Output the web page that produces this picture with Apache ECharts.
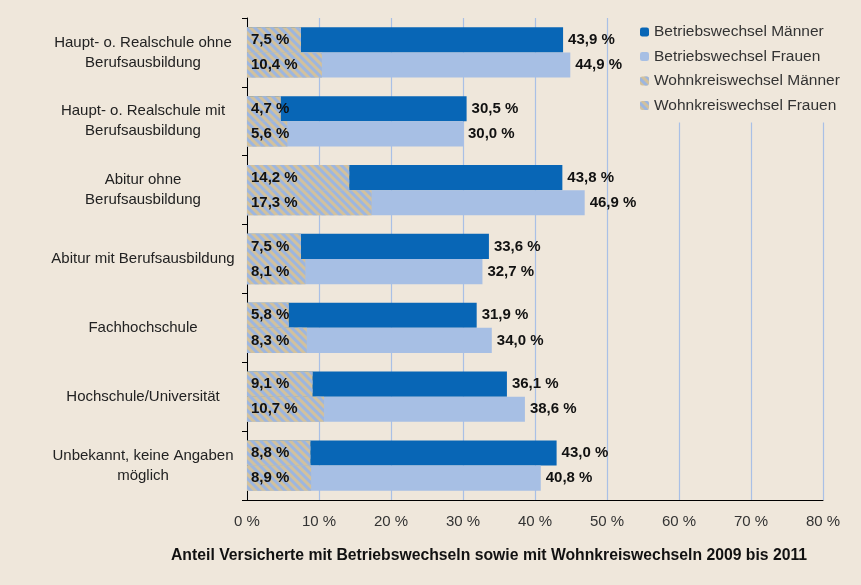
<!DOCTYPE html>
<html>
<head>
<meta charset="utf-8">
<script src="https://cdn.jsdelivr.net/npm/echarts@6/dist/echarts.min.js"></script>
<style>
  html, body { margin: 0; padding: 0; background: #efe7db; }
  #chart { width: 861px; height: 585px; }
</style>
</head>
<body>
<div id="chart"></div>
<script>
// Kategorien (Schulabschluss)
const categories = [
    'Haupt- o. Realschule ohne\nBerufsausbildung',
    'Haupt- o. Realschule mit\nBerufsausbildung',
    'Abitur ohne\nBerufsausbildung',
    'Abitur mit Berufsausbildung',
    'Fachhochschule',
    'Hochschule/Universität',
    'Unbekannt, keine Angaben\nmöglich'
];
// Werte in %
const betriebMaenner = [43.9, 30.5, 43.8, 33.6, 31.9, 36.1, 43.0];
const betriebFrauen = [44.9, 30.0, 46.9, 32.7, 34.0, 38.6, 40.8];
const wohnkreisMaenner = [7.5, 4.7, 14.2, 7.5, 5.8, 9.1, 8.8];
const wohnkreisFrauen = [10.4, 5.6, 17.3, 8.1, 8.3, 10.7, 8.9];

const FONT = '"Liberation Sans", Arial, sans-serif';
const fmt = v => v.toFixed(1).replace('.', ',') + ' %';

// schraffur für Wohnkreiswechsel
const hatch = {
    symbol: 'rect',
    color: '#9db6df',
    dashArrayX: [1, 0],
    dashArrayY: [3, 3],
    rotation: Math.PI / 4
};

const valueLabel = {
    show: true,
    position: 'right',
    distance: 5,
    fontFamily: FONT,
    fontSize: 15,
    fontWeight: 'bold',
    color: '#111',
    formatter: p => fmt(p.value)
};
const innerLabel = {
    show: true,
    position: 'insideLeft',
    distance: 4,
    fontFamily: FONT,
    fontSize: 15,
    fontWeight: 'bold',
    color: '#111',
    formatter: p => fmt(p.value)
};

const chart = echarts.init(document.getElementById('chart'));

chart.setOption({
    backgroundColor: '#efe7db',
    animation: false,
    textStyle: {fontFamily: FONT},
    title: {
        text: 'Anteil Versicherte mit Betriebswechseln sowie mit Wohnkreiswechseln 2009 bis 2011',
        left: 171,
        top: 548,
        padding: 0,
        textStyle: {fontFamily: FONT, fontSize: 15.75, fontWeight: 'bold', color: '#111'}
    },
    legend: {
        orient: 'vertical',
        left: 627,
        top: 15,
        padding: [9, 10, 9, 13],
        backgroundColor: '#efe7db',
        itemWidth: 9,
        itemHeight: 9,
        itemGap: 8.5,
        data: ['Betriebswechsel Männer', 'Betriebswechsel Frauen', 'Wohnkreiswechsel Männer', 'Wohnkreiswechsel Frauen'],
        textStyle: {fontFamily: FONT, fontSize: 15.5, color: '#333'}
    },
    grid: {left: 247, right: 38, top: 18, bottom: 85},
    xAxis: {
        type: 'value',
        min: 0,
        max: 80,
        interval: 10,
        axisLine: {show: true, lineStyle: {color: '#000', width: 1}},
        axisTick: {show: false},
        axisLabel: {formatter: '{value} %', fontSize: 15, color: '#333', margin: 14},
        splitLine: {show: true, lineStyle: {color: ['#a9c0e6'], width: 1.2, type: 'solid'}}
    },
    yAxis: [
        {
            type: 'category',
            data: categories,
            inverse: true,
            axisLine: {show: true, lineStyle: {color: '#000', width: 1}},
            axisTick: {show: true, length: 5, lineStyle: {color: '#000'}},
            axisLabel: {
                align: 'center',
                margin: 104,
                fontSize: 15,
                lineHeight: 20,
                color: '#222'
            },
            splitLine: {show: false}
        },
        {
            type: 'category',
            data: categories,
            inverse: true,
            show: false
        }
    ],
    series: [
        {
            name: 'Betriebswechsel Männer',
            type: 'bar',
            yAxisIndex: 0,
            data: betriebMaenner,
            barGap: '0%',
            barCategoryGap: '27%',
            itemStyle: {color: '#0866b6'},
            label: valueLabel,
            z: 2
        },
        {
            name: 'Betriebswechsel Frauen',
            type: 'bar',
            yAxisIndex: 0,
            data: betriebFrauen,
            barGap: '0%',
            barCategoryGap: '27%',
            itemStyle: {color: '#a7bfe4'},
            label: valueLabel,
            z: 2
        },
        {
            name: 'Wohnkreiswechsel Männer',
            type: 'bar',
            yAxisIndex: 1,
            data: wohnkreisMaenner,
            barGap: '0%',
            barCategoryGap: '27%',
            itemStyle: {color: '#d2c19d', decal: hatch},
            label: innerLabel,
            z: 3
        },
        {
            name: 'Wohnkreiswechsel Frauen',
            type: 'bar',
            yAxisIndex: 1,
            data: wohnkreisFrauen,
            barGap: '0%',
            barCategoryGap: '27%',
            itemStyle: {color: '#d2c19d', decal: hatch},
            label: innerLabel,
            z: 3
        }
    ]
});
</script>
</body>
</html>
